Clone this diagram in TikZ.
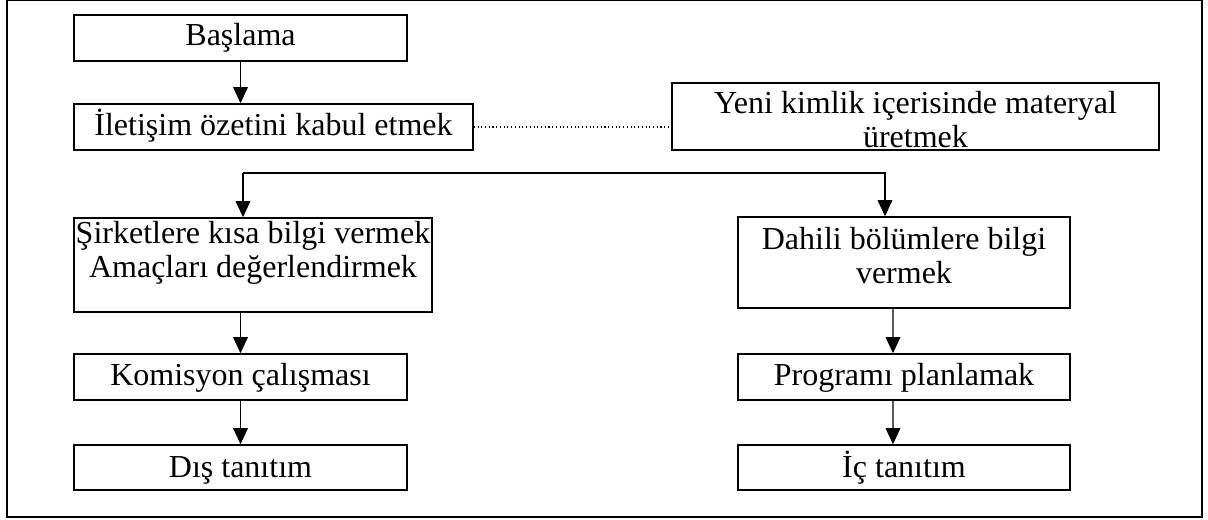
\documentclass[tikz,border=0pt]{standalone}
\usepackage{fontspec}
\setmainfont{Liberation Serif}
\usetikzlibrary{arrows.meta}

\begin{document}
\begin{tikzpicture}[x=0.75pt,y=0.75pt,yscale=-1,xscale=1,
	kutu/.style={draw, line width=1.2pt, inner sep=0pt, align=center, font=\fontsize{24}{25.5}\selectfont},
	ok/.style={-{Triangle[length=12pt,width=11pt]}, line width=0.9pt},
	okgri/.style={ok, draw=black!65, -{Triangle[length=12pt,width=11pt,black]}}]
	%uncomment if require: \path (0,519);
	\useasboundingbox (0,0) rectangle (1208,519);
	
	%Frame
	\draw [line width=0.8pt] (7,0.8) rectangle (1202,517);
	
	% Text Node
	\node [kutu, minimum width=249.75pt, text height=22.5pt, text depth=12pt] (basla) at (240.5,38) {Başlama};
	% Text Node
	\node [kutu, minimum width=299.25pt, text height=23.25pt, text depth=11.25pt] (iletisim) at (273.5,127) {İletişim özetini kabul etmek};
	% Text Node
	\node [kutu, minimum width=365.25pt, text height=48pt, text depth=2.25pt] (yeni) at (915.5,116.5) {Yeni kimlik içerisinde materyal\\üretmek};
	% Text Node
	\node [kutu, minimum width=268.5pt, text height=44.25pt, text depth=26.25pt] (sirket) at (253,265) {Şirketlere kısa bilgi vermek\\Amaçları değerlendirmek};
	% Text Node
	\node [kutu, minimum width=249pt, text height=49.5pt, text depth=18.75pt] (dahili) at (904,262.5) {Dahili bölümlere bilgi\\vermek};
	% Text Node
	\node [kutu, minimum width=249.75pt, text height=23.25pt, text depth=11.25pt] (komisyon) at (240.5,377) {Komisyon çalışması};
	% Text Node
	\node [kutu, minimum width=249pt, text height=23.25pt, text depth=11.25pt] (program) at (904,377) {Programı planlamak};
	% Text Node
	\node [kutu, minimum width=249.75pt, text height=24pt, text depth=9.75pt] (dis) at (240.5,467.5) {Dış tanıtım};
	% Text Node
	\node [kutu, minimum width=249pt, text height=24pt, text depth=9.75pt] (ic) at (904,467.5) {İç tanıtım};
	
	%Straight Lines
	\draw [ok] (basla) -- (basla |- iletisim.north);
	%Dotted Line
	\draw [dotted, line width=0.8pt] (iletisim.east) -- (iletisim.east -| yeni.west);
	
	%Branch
	\coordinate (solkol) at (243,173);
	\coordinate (sagkol) at (885,173);
	\draw [ok] (solkol) -- (solkol |- sirket.north);
	\draw [ok] (solkol) -- (sagkol) -- (sagkol |- dahili.north);
	
	%Straight Lines
	\draw [ok] (komisyon.north |- sirket.south) -- (komisyon.north);
	\draw [ok] (komisyon) -- (dis);
	\draw [okgri] ([xshift=-8.25pt]dahili.south) -- ([xshift=-8.25pt]program.north);
	\draw [okgri] ([xshift=-8.25pt]program.south) -- ([xshift=-8.25pt]ic.north);
	
\end{tikzpicture}
\end{document}
